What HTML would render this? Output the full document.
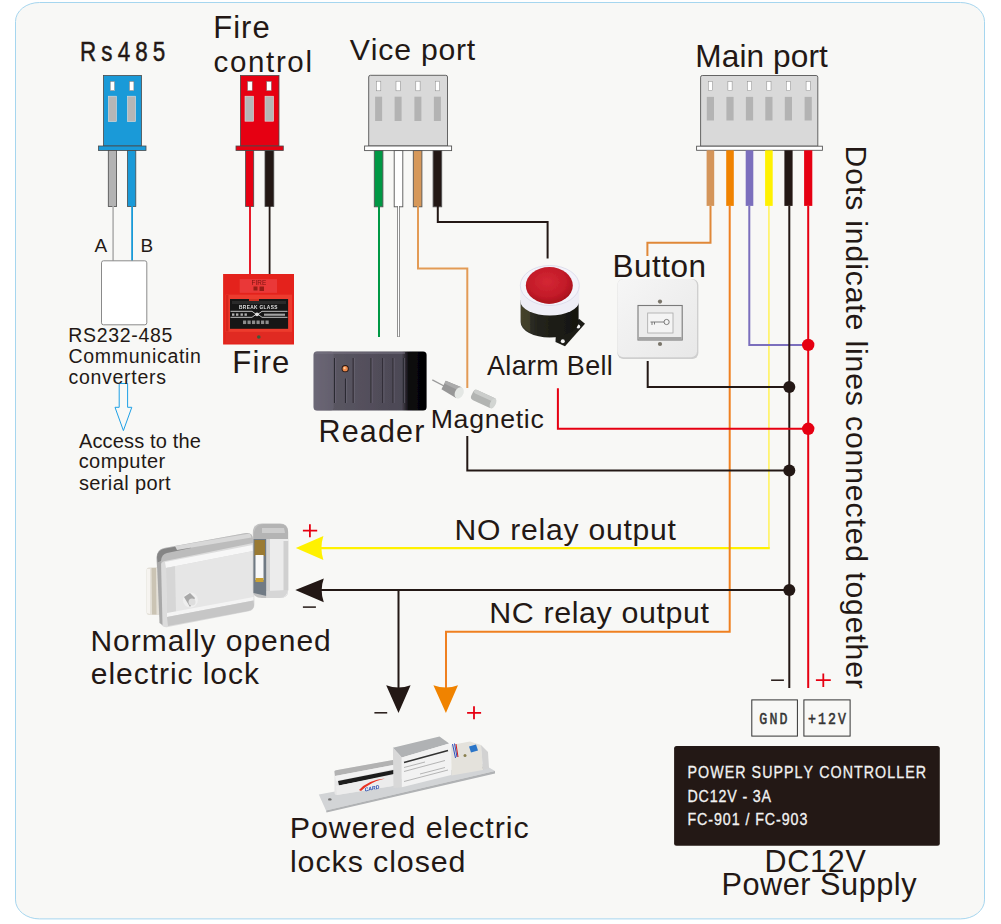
<!DOCTYPE html>
<html><head><meta charset="utf-8"><style>
html,body{margin:0;padding:0;background:#fff;width:1001px;height:924px;overflow:hidden}
svg{display:block}
text{font-kerning:none}
</style></head><body>
<svg width="1001" height="924" viewBox="0 0 1001 924">
<defs>
  <filter id="soft" x="-5%" y="-5%" width="110%" height="110%"><feGaussianBlur stdDeviation="0.4"/></filter>
  <linearGradient id="chrome" x1="0" y1="0" x2="0" y2="1">
    <stop offset="0" stop-color="#f4f4f4"/><stop offset="0.3" stop-color="#d9d9d9"/><stop offset="0.6" stop-color="#eeeeee"/><stop offset="1" stop-color="#bdbdbd"/>
  </linearGradient>
  <linearGradient id="chromeH" x1="0" y1="0" x2="1" y2="0">
    <stop offset="0" stop-color="#c8c8c8"/><stop offset="0.3" stop-color="#f0f0f0"/><stop offset="0.7" stop-color="#dcdcdc"/><stop offset="1" stop-color="#a8a8a8"/>
  </linearGradient>
  <linearGradient id="readerG" x1="0" y1="0" x2="1" y2="0">
    <stop offset="0" stop-color="#6c6776"/><stop offset="0.17" stop-color="#5a5662"/><stop offset="0.78" stop-color="#4c4855"/><stop offset="0.84" stop-color="#0e0d10"/><stop offset="1" stop-color="#000"/>
  </linearGradient>
  <linearGradient id="fireG" x1="0" y1="0" x2="0" y2="1">
    <stop offset="0" stop-color="#e53a2c"/><stop offset="1" stop-color="#d8261c"/>
  </linearGradient>
  <radialGradient id="bellRed" cx="0.45" cy="0.4" r="0.6">
    <stop offset="0" stop-color="#d42834"/><stop offset="0.7" stop-color="#c21a28"/><stop offset="1" stop-color="#a8101c"/>
  </radialGradient>
  <linearGradient id="bellBody" x1="0" y1="0" x2="1" y2="0">
    <stop offset="0" stop-color="#3a3a30"/><stop offset="0.3" stop-color="#23231c"/><stop offset="1" stop-color="#15150f"/>
  </linearGradient>
  <linearGradient id="btnG" x1="0" y1="0" x2="1" y2="1">
    <stop offset="0" stop-color="#f6f6f6"/><stop offset="1" stop-color="#e8e8e8"/>
  </linearGradient>
</defs>
<!-- background -->
<rect x="15.5" y="2.5" width="969" height="916.4" rx="24" ry="19" fill="#f8f8f6" stroke="#a6d6ef" stroke-width="1"/>

<!-- ===== RS485 connector (blue) ===== -->
<g stroke="#4a4a4a" stroke-width="0.8">
  <rect x="103.5" y="75.5" width="38" height="70.5" fill="#1a9ad8"/>
  <rect x="98.5" y="146" width="47.5" height="4.5" fill="#1a9ad8"/>
  <rect x="108.3" y="150.5" width="8.3" height="56" fill="#b3b3b3"/>
  <rect x="127.5" y="150.5" width="8.3" height="56" fill="#1a9ad8"/>
</g>
<g fill="#fff" stroke="#777" stroke-width="0.5">
  <rect x="110.2" y="81.4" width="4.5" height="9.3"/><rect x="129.4" y="81.4" width="4.5" height="9.3"/>
</g>
<g fill="#b6b6b6" stroke="#ddd" stroke-width="0.6">
  <rect x="108.3" y="96.2" width="8.2" height="25.4"/><rect x="127.4" y="96.2" width="8.2" height="25.4"/>
</g>
<line x1="113.1" y1="206" x2="113.1" y2="261" stroke="#b0b0b0" stroke-width="1.6"/>
<line x1="132.1" y1="206" x2="132.1" y2="261" stroke="#1a9ad8" stroke-width="1.8"/>
<rect x="101.5" y="260.8" width="45.3" height="64" rx="2" fill="#fff" stroke="#8a8a8a" stroke-width="1"/>
<path d="M119.2 383.5 H127.6 V407.3 H131.8 L123.4 430.6 L115 407.3 H119.2 Z" fill="none" stroke="#1ea0e6" stroke-width="1"/>

<!-- ===== Fire control connector (red) ===== -->
<g stroke="#4a4a4a" stroke-width="0.8">
  <rect x="240.4" y="75.5" width="38.6" height="70.5" fill="#e60012"/>
  <rect x="236" y="146" width="47.3" height="4.5" fill="#e60012"/>
  <rect x="245.6" y="150.5" width="8.1" height="56" fill="#e60012"/>
  <rect x="265" y="150.5" width="8.8" height="56" fill="#231815"/>
</g>
<g fill="#fff" stroke="#777" stroke-width="0.5">
  <rect x="247.6" y="81.4" width="4.6" height="9.3"/><rect x="266.7" y="81.4" width="4.6" height="9.3"/>
</g>
<g fill="#b6b6b6" stroke="#ddd" stroke-width="0.6">
  <rect x="245" y="96.2" width="8.6" height="25" /><rect x="265" y="96.2" width="8.6" height="25"/>
</g>
<line x1="250" y1="206" x2="250" y2="275" stroke="#e60012" stroke-width="1.8"/>
<line x1="269.6" y1="206" x2="269.6" y2="275" stroke="#231815" stroke-width="1.8"/>

<!-- ===== Vice port connector ===== -->
<g stroke="#555" stroke-width="0.9">
  <path d="M368.7 146 V77 Q368.7 75.3 370.4 75.3 H445.8 Q447.5 75.3 447.5 77 V146 Z" fill="#d9d9d9"/>
  <rect x="364.6" y="146" width="87" height="4.6" fill="#fff"/>
  <rect x="374.3" y="150.6" width="8.6" height="56.2" fill="#009844"/>
  <rect x="394.2" y="150.6" width="8.6" height="56.2" fill="#ffffff"/>
  <rect x="413.3" y="150.6" width="8.6" height="56.2" fill="#d6985a"/>
  <rect x="433.1" y="150.6" width="8.6" height="56.2" fill="#231815"/>
</g>
<g fill="#fff" stroke="#888" stroke-width="0.5">
  <rect x="376.5" y="81.2" width="4.3" height="9.6"/><rect x="396" y="81.2" width="4.3" height="9.6"/>
  <rect x="415.8" y="81.2" width="4.3" height="9.6"/><rect x="435.3" y="81.2" width="4.3" height="9.6"/>
</g>
<g fill="#b3b3b3">
  <rect x="375.1" y="96.7" width="7" height="24.3"/><rect x="394.6" y="96.7" width="7" height="24.3"/>
  <rect x="414.4" y="96.7" width="7" height="24.3"/><rect x="433.9" y="96.7" width="7" height="24.3"/>
</g>

<!-- ===== Main port connector ===== -->
<g stroke="#555" stroke-width="0.9">
  <path d="M700.6 146.2 V77.2 Q700.6 75.5 702.3 75.5 H816.1 Q817.8 75.5 817.8 77.2 V146.2 Z" fill="#d9d9d9"/>
  <rect x="696.6" y="146.2" width="125.8" height="4.1" fill="#fff"/>
</g>
<g>
  <rect x="706.6" y="150.3" width="7.6" height="55.6" fill="#d4955a"/>
  <rect x="726.2" y="150.3" width="7.6" height="55.6" fill="#f08300"/>
  <rect x="745.7" y="150.3" width="7.6" height="55.6" fill="#7b6fbd"/>
  <rect x="765.1" y="150.3" width="7.6" height="55.6" fill="#fff100"/>
  <rect x="784.4" y="150.3" width="8.2" height="55.6" fill="#231815"/>
  <rect x="804.1" y="150.3" width="8.2" height="55.6" fill="#e60012"/>
</g>
<g fill="#fff" stroke="#888" stroke-width="0.5">
  <rect x="708.3" y="81.4" width="4.2" height="9.3"/><rect x="727.9" y="81.4" width="4.2" height="9.3"/>
  <rect x="747.4" y="81.4" width="4.2" height="9.3"/><rect x="766.8" y="81.4" width="4.2" height="9.3"/>
  <rect x="786.3" y="81.4" width="4.2" height="9.3"/><rect x="806.1" y="81.4" width="4.2" height="9.3"/>
</g>
<g fill="#b3b3b3">
  <rect x="706.8" y="96.9" width="7.2" height="23.6"/><rect x="726.4" y="96.9" width="7.2" height="23.6"/>
  <rect x="745.9" y="96.9" width="7.2" height="23.6"/><rect x="765.3" y="96.9" width="7.2" height="23.6"/>
  <rect x="784.8" y="96.9" width="7.2" height="23.6"/><rect x="804.6" y="96.9" width="7.2" height="23.6"/>
</g>

<!-- ===== thin wires ===== -->
<g fill="none" stroke-width="2" stroke-linejoin="miter">
  <path d="M379 206 V337" stroke="#009844"/>
  <path d="M398.5 206 V337" stroke="#777" stroke-width="2.6"/>
  <path d="M398.5 206 V336.5" stroke="#fff" stroke-width="1"/>
  <path d="M418 206 V268.6 H467.3 V388" stroke="#e39b55"/>
  <path d="M437.8 206 V222 H547.6 V258.5" stroke="#231815"/>
  <path d="M710.5 206 V242.7 H647.4 V256" stroke="#e08838"/>
  <path d="M768.9 206 V547.5" stroke="#fff370" stroke-width="1.8"/>
  <path d="M769.8 548.1 H321" stroke="#fff100" stroke-width="2.1"/>
  <path d="M729.7 206 V631.7 H446 V688" stroke="#ef8020"/>
  <path d="M749.3 206 V344.9 H808" stroke="#7b6fbd"/>
  <path d="M789.3 206 V688" stroke="#231815"/>
  <path d="M808.2 206 V688" stroke="#e60012"/>
  <path d="M557.9 388.3 V428.8 H808" stroke="#e60012"/>
  <path d="M467.3 436 V470.6 H789" stroke="#231815"/>
  <path d="M647.7 361 V386.9 H789" stroke="#231815"/>
  <path d="M321 590 H789" stroke="#231815"/>
  <path d="M398.5 590 V688" stroke="#231815"/>
</g>
<!-- dots -->
<circle cx="808.2" cy="344.9" r="6.2" fill="#e60012"/>
<circle cx="808.2" cy="428.8" r="6.2" fill="#e60012"/>
<circle cx="789.3" cy="386.9" r="6" fill="#231815"/>
<circle cx="789.3" cy="470.5" r="6" fill="#231815"/>
<circle cx="789.3" cy="590" r="6" fill="#231815"/>

<!-- arrows -->
<path d="M295.8 548 L323.4 536.1 Q319.5 548 323.4 560 Z" fill="#fff100"/>
<path d="M295.3 590 L323.8 578.4 Q319.5 590 323.8 602.2 Z" fill="#231815"/>
<path d="M398.5 713.1 L386.2 685.2 Q398.5 690 410.6 685.2 Z" fill="#231815"/>
<path d="M445.9 713.1 L433.4 685.2 Q445.9 690 458 685.2 Z" fill="#f08300"/>

<!-- signs -->
<g stroke="#e60012" stroke-width="1.8">
  <path d="M302.9 530.7 H317.2 M309.9 524.2 V537.2"/>
  <path d="M467.1 712.8 H481.1 M474 706.2 V719.3"/>
  <path d="M815.9 680.2 H830.8 M823.3 673.5 V687.1"/>
</g>
<g stroke="#231815" stroke-width="1.5">
  <path d="M302.9 607.1 H315.9"/>
  <path d="M374.4 712.8 H387.2"/>
  <path d="M771.1 680.2 H783.9"/>
</g>

<!-- power supply -->
<rect x="751.8" y="699.9" width="45.6" height="36.2" fill="none" stroke="#333" stroke-width="1"/>
<rect x="803.9" y="699.9" width="46.2" height="36.2" fill="none" stroke="#333" stroke-width="1"/>
<rect x="674.1" y="746" width="265.7" height="99.8" rx="2.5" fill="#231815"/>

<!-- ===== Fire alarm ===== -->
<g id="firealarm" filter="url(#soft)">
  <rect x="223.1" y="274" width="70.9" height="70.5" fill="#e4241b"/>
  <rect x="239.7" y="279.1" width="37.3" height="13.7" fill="#ea3838"/>
  <text x="251.6" y="285" font-size="6.4" fill="#7a1410" style="font-family:&quot;Liberation Sans&quot;">FIRE</text>
  <path d="M253.5 286.5 h4 v4 h-4 z M259.5 286.5 h4.5 v4.5 h-4.5 z" fill="#8a1812" opacity="0.85"/>
  <rect x="225.5" y="294.6" width="66.5" height="37.3" fill="#ec3a2e"/>
  <rect x="226" y="295" width="2.5" height="36.5" fill="#d8281e"/>
  <rect x="230" y="299" width="58.1" height="29.8" fill="#141414"/>
  <rect x="249" y="299" width="10" height="2" fill="#d03020"/>
  <rect x="232" y="301" width="54" height="3" fill="#2c2c2c"/>
  <text x="239" y="308.5" font-size="4.8" font-weight="bold" fill="#e0e0e0" style="font-family:&quot;Liberation Sans&quot;" letter-spacing="0.35">BREAK  GLASS</text>
  <path d="M230.5 311.3 H252 L257 315 L262 311.3 H287.5 M230.5 317.3 H252 L257 313.6 L262 317.3 H287.5" stroke="#f0f0f0" stroke-width="0.8" fill="none"/>
  <circle cx="257" cy="314.3" r="1.9" fill="#e0e0e0"/>
  <g fill="#b0b0b0"><rect x="232" y="313.4" width="2.4" height="2.4"/><rect x="236" y="313.4" width="2.4" height="2.4"/><rect x="240.5" y="313.4" width="2.4" height="2.4"/><rect x="244.5" y="313.4" width="2.4" height="2.4"/>
  <rect x="264" y="313.6" width="21" height="2.2" opacity="0.9"/></g>
  <g fill="#8c8c8c"><rect x="243" y="320.5" width="3.2" height="3.6"/><rect x="247.5" y="320.5" width="3.2" height="3.6"/><rect x="252" y="320.5" width="3.2" height="3.6"/><rect x="256.5" y="320.5" width="3.2" height="3.6"/><rect x="261" y="320.5" width="3.2" height="3.6"/><rect x="265.5" y="320.5" width="3.2" height="3.6"/></g>
  <rect x="225.5" y="332" width="66.5" height="11" fill="#e02a20"/>
  <circle cx="258.8" cy="337" r="1.8" fill="#3d5a3a"/>
</g>

<!-- ===== Alarm bell ===== -->
<g id="bell" filter="url(#soft)">
  <path d="M556 331 L579.3 318.9 L585 323.8 L565 346.2 L555.5 342 Z" fill="#1c1c18"/>
  <circle cx="578.2" cy="326.5" r="2" fill="#f4f4f4"/>
  <circle cx="562.8" cy="341.2" r="2" fill="#f4f4f4"/>
  <path d="M520.6 300 V322 A29 15.5 0 0 0 578.6 322 V300 Z" fill="url(#bellBody)"/>
  <path d="M521 306 V322 A29 15 0 0 0 530 332 V312 Z" fill="#4d4a2c" opacity="0.6"/>
  <path d="M520.3 285.5 V301 A29.5 14.5 0 0 0 579.3 301 V285.5 Z" fill="#eeeef6"/>
  <ellipse cx="549.8" cy="285.5" rx="29.5" ry="20" fill="#f3f3fa" stroke="#d8d8e8" stroke-width="0.8"/>
  <ellipse cx="549.3" cy="285.4" rx="23.5" ry="18.3" fill="url(#bellRed)"/>
  <path d="M534 296 Q549 306 566 296 Q560 303 549 304 Q538 303 534 296 Z" fill="#b01420" opacity="0.7"/>
</g>

<!-- ===== Button ===== -->
<g id="button" filter="url(#soft)">
  <rect x="617.4" y="279" width="81" height="80" rx="6" fill="#cfcfcf"/>
  <rect x="617.4" y="279" width="79.6" height="78.3" rx="6" fill="url(#btnG)"/>
  <circle cx="660" cy="301.6" r="2.1" fill="#7a756a"/>
  <circle cx="660" cy="344" r="2.1" fill="#7a756a"/>
  <rect x="638" y="305.5" width="44.2" height="34.5" fill="#ececec" stroke="#7a7a7a" stroke-width="1.1"/>
  <rect x="638.5" y="337" width="43.2" height="3" fill="#a4a4a4"/>
  <rect x="647.7" y="313" width="25.3" height="20" fill="#f4f4f4" stroke="#a8a8a8" stroke-width="0.8"/>
  <circle cx="666.6" cy="322" r="2.6" fill="none" stroke="#707070" stroke-width="0.9"/>
  <path d="M650.5 322 H664 M652 322 V325 M654.5 322 V324.5" fill="none" stroke="#707070" stroke-width="0.9"/>
</g>

<!-- ===== Reader ===== -->
<g id="reader" filter="url(#soft)">
  <rect x="313.6" y="351.5" width="113" height="59.1" rx="3.5" fill="url(#readerG)"/>
  <rect x="313.6" y="351.5" width="20" height="59.1" rx="3" fill="#6c6876" opacity="0.55"/>
  <rect x="315" y="352" width="90" height="2" fill="#7a7684" opacity="0.5"/>
  <g stroke="#2c2a32" stroke-width="1.1">
    <path d="M334.5 358 V403 M353.2 358 V403 M371 358 V403 M382.7 358 V403 M393 358 V403 M403.5 358 V403 M345.5 378.5 V403"/>
  </g>
  <g stroke="#7a7684" stroke-width="0.6" opacity="0.8">
    <path d="M335.6 358 V403 M354.3 358 V403 M372.1 358 V403 M383.8 358 V403 M394.1 358 V403 M404.6 358 V403 M346.6 378.5 V403"/>
  </g>
  <circle cx="345.2" cy="368.7" r="3.6" fill="#2a1a14"/>
  <circle cx="345.2" cy="368.7" r="2.6" fill="#f08a4a"/>
  <circle cx="344.6" cy="368.1" r="1.1" fill="#ffd0a0"/>
</g>

<!-- ===== Magnetic sensor ===== -->
<g id="magnetic" filter="url(#soft)">
  <path d="M432.3 379.9 L444 386" stroke="#9a9a9a" stroke-width="1.3" fill="none"/>
  <g transform="translate(452.5 389.5) rotate(27)">
    <path d="M-10 -4.8 L7 -6 L7 6 L-10 4.8 Z" fill="#979797"/>
    <path d="M-10 -4.8 L7 -6 L7 -2 L-10 -1.5 Z" fill="#ababab"/>
    <ellipse cx="7.5" cy="0" rx="4.2" ry="6" fill="#e4e7e4"/>
  </g>
  <g transform="translate(483.5 399) rotate(25)">
    <rect x="-12.5" y="-5.5" width="25" height="11" rx="3.5" fill="#b2b4b2"/>
    <rect x="-12" y="-5.5" width="24" height="4" rx="2" fill="#cbcdcb"/>
    <ellipse cx="10.5" cy="0" rx="2.8" ry="5.4" fill="#d2d5d2"/>
  </g>
</g>

<!-- ===== Rim lock ===== -->
<g id="rimlock" filter="url(#soft)">
  <path d="M146.5 570 Q146.5 567.5 149 567.5 L160 567 L161 615 L149 615 Q146.5 615 146.5 612 Z" fill="#e4e0d8"/>
  <path d="M151.5 568 L156 568 L156.5 614.5 L152 614.5 Z" fill="#cbc4b4"/>
  <path d="M147 569 L150 569 L150 614 L147 613 Z" fill="#f6f4f0"/>
  <path d="M156.5 558 Q156.5 549.5 164 548 L246 533 Q252.5 532 253 539 L254.5 604 Q254.5 610.5 248 611.5 L168 627 Q161 628.5 160.5 621 Z" fill="#dcdcdc"/>
  <path d="M156.5 558 Q156.5 549.5 164 548 L246 533 Q252.5 532 253 539 L253 543 L165 561 Q160 562 160.5 568 L157 568 Z" fill="#bcbcbc"/>
  <path d="M157 557 Q157.5 549.5 165 548.5 L190 544 L191 548 L167 553 Q161.5 554 161 561 L157.5 563 Z" fill="#858585"/>
  <path d="M175 546 L250 533.5 L251.5 537.5 L177 550 Z" fill="#d8d8d8"/>
  <path d="M157 563 L161 561 L162.5 625 L159.5 623 Z" fill="#a8a8a8"/>
  <path d="M165 562 L252.5 545 L253 551 L166 568 Z" fill="#f7f7f7"/>
  <path d="M166 568 L253 551 L253.5 598 L167 614 Z" fill="#e6e6e6"/>
  <path d="M166 568 L175 566.3 L176 612.3 L167 614 Z" fill="#d6d6d6"/>
  <path d="M167 613 L253.5 597 L253.5 600.5 L167 617 Z" fill="#f4f4f4"/>
  <path d="M167 617 L253.5 600.5 L254 605 Q254 610 248 611 L168 626 Z" fill="#c6c6c6"/>
  <circle cx="190.4" cy="600" r="7.5" fill="#efefef"/>
  <path d="M184 597 L190 593 L195 598 L190 607 Z" fill="#a8a8a8"/>
  <circle cx="192" cy="602" r="3.5" fill="#dedede"/>
  <path d="M252.8 533 Q252.8 523.5 262 523.5 L280 523.5 Q288.2 523.5 288.2 532 L288.2 590 Q288.2 598 280 598 L262 598 Q252.8 598 252.8 590 Z" fill="#c2c2c2"/>
  <path d="M253.5 539 L266.6 539 L266.6 596 L253.5 593 Z" fill="#707a84"/>
  <path d="M254.5 540 L265 540 L265 556 L254.5 556 Z" fill="#9a7a30"/>
  <rect x="255.5" y="555" width="8" height="25" fill="#f8f8f8"/>
  <rect x="255.5" y="578" width="8" height="4" fill="#c8a030"/>
  <path d="M266.6 539 L288.2 539 L288.2 590 Q288.2 598 280 598 L266.6 598 Z" fill="#ececec"/>
  <path d="M266.6 539 L270 539 L270 598 L266.6 598 Z" fill="#d4d4d4"/>
  <path d="M283.5 541 L288.2 541 L288.2 590 L283.5 592 Z" fill="#d0d0d0"/>
  <path d="M266.6 591 L288 590 Q287 597 280 598 L266.6 598 Z" fill="#d6d6d6"/>
  <path d="M254 532 Q256 524 264 524 L280 524 Q287 524 288 531 L288 539 L253.5 539 Z" fill="#b4b4b4"/>
  <path d="M262 528 L284 528 L285 533 L262 533 Z" fill="#cdcdcd"/>
</g>

<!-- ===== Bolt lock ===== -->
<g id="boltlock" filter="url(#soft)">
  <path d="M318.8 794.5 L483 764 L495 771 L326 810.5 Z" fill="#d2d4d6"/>
  <path d="M326 810.5 L495 771 L495 773.5 L326.5 812.5 Z" fill="#b0b2b4"/>
  <ellipse cx="329.8" cy="799.4" rx="1.8" ry="1.2" fill="#707070"/>
  <circle cx="483" cy="768" r="1.2" fill="#8a8a8a"/>
  <path d="M334.5 772 Q334 770.6 336 770.3 L398.5 759 L399 785 L337 795 Q334.5 795.3 334.5 793 Z" fill="#e6e6e6"/>
  <path d="M334.5 772 Q334 770.6 336 770.3 L398.5 759 L398.5 764 L335 776 Z" fill="#b2b2b2"/>
  <path d="M335 776 L398.5 764 L398.5 768 L336 781 Z" fill="#f2f2f2"/>
  <path d="M338 781 L398.5 769 L398.5 773 L339 785.5 Z" fill="#1e1e1e"/>
  <path d="M336 786 L398.5 774 L399 785 L337 795 Z" fill="#ececec"/>
  <path d="M359 790 Q368 780 385 778.5 Q370 782 361 791 Z" fill="#e83020"/>
  <text x="364" y="790" font-size="5.2" font-weight="bold" font-style="italic" fill="#2048b0" transform="rotate(-11 372 786)" style="font-family:&quot;Liberation Sans&quot;">CARD</text>
  <path d="M392.9 747.8 L439.5 736.5 L449.2 743.6 L401.8 757.5 Z" fill="#b0b2b4"/>
  <path d="M392.9 747.8 L401.8 757.5 L401.8 787.2 L393.5 788 Z" fill="#d8d8d8"/>
  <path d="M401.8 757.5 L449.2 743.6 L451.1 747.3 L451.1 775.1 L401.8 787.2 Z" fill="#f2f2f2"/>
  <path d="M404 762.5 L448 750.5" stroke="#333" stroke-width="1.6"/>
  <g stroke="#999" stroke-width="0.7">
    <path d="M404 767.5 L425 762 M404 771.5 L445 760.5 M420 774 L445 767.5 M404 781.5 L448 770"/>
  </g>
  <path d="M451.1 745 L470 741.5 L481 745 L483 770 L451.5 775.5 Z" fill="#e4e2dc"/>
  <path d="M481 745 L488 752 L489 768 L483 770 Z" fill="#d2d2d2"/>
  <path d="M469 746.5 L476 744.5 L478 750.5 L471 752.5 Z" fill="#2a74c8"/>
  <circle cx="465" cy="755.5" r="1.5" fill="#8a8050"/>
  <path d="M452.5 744 L455.5 758 M454.5 743.5 L457 757" stroke="#3050c0" stroke-width="1"/>
  <path d="M456 744 L458 757" stroke="#d02020" stroke-width="1"/>
</g>

<text transform="matrix(0.8 0 0 1 80.06 0)" x="0" y="60.80" font-size="28" letter-spacing="6.384" fill="#231815" stroke="#231815" stroke-width="0.50" style="font-family:&quot;Liberation Sans&quot;">Rs485</text>
<text x="213.26" y="38.00" font-size="31" letter-spacing="1.011" fill="#231815" style="font-family:&quot;Liberation Sans&quot;">Fire</text>
<text x="213.55" y="71.80" font-size="29.5" letter-spacing="1.647" fill="#231815" style="font-family:&quot;Liberation Sans&quot;">control</text>
<text x="349.87" y="59.85" font-size="30.2" letter-spacing="0.784" fill="#231815" style="font-family:&quot;Liberation Sans&quot;">Vice port</text>
<text x="695.31" y="67.00" font-size="31.6" letter-spacing="0.100" fill="#231815" style="font-family:&quot;Liberation Sans&quot;">Main port</text>
<text x="94.56" y="252.10" font-size="19" letter-spacing="0.000" fill="#231815" style="font-family:&quot;Liberation Sans&quot;">A</text>
<text x="140.44" y="252.10" font-size="19" letter-spacing="0.000" fill="#231815" style="font-family:&quot;Liberation Sans&quot;">B</text>
<text x="68.30" y="341.60" font-size="19.5" letter-spacing="0.683" fill="#231815" style="font-family:&quot;Liberation Sans&quot;">RS232-485</text>
<text x="68.51" y="362.70" font-size="19.5" letter-spacing="0.712" fill="#231815" style="font-family:&quot;Liberation Sans&quot;">Communicatin</text>
<text x="68.47" y="383.70" font-size="19.5" letter-spacing="0.711" fill="#231815" style="font-family:&quot;Liberation Sans&quot;">converters</text>
<text x="78.96" y="447.80" font-size="20" letter-spacing="0.156" fill="#231815" style="font-family:&quot;Liberation Sans&quot;">Access to the</text>
<text x="78.65" y="468.10" font-size="20" letter-spacing="0.445" fill="#231815" style="font-family:&quot;Liberation Sans&quot;">computer</text>
<text x="78.94" y="489.80" font-size="20" letter-spacing="0.379" fill="#231815" style="font-family:&quot;Liberation Sans&quot;">serial port</text>
<text x="232.35" y="372.90" font-size="31.1" letter-spacing="1.125" fill="#231815" style="font-family:&quot;Liberation Sans&quot;">Fire</text>
<text x="612.42" y="277.00" font-size="31.5" letter-spacing="0.512" fill="#231815" style="font-family:&quot;Liberation Sans&quot;">Button</text>
<text x="487.05" y="374.80" font-size="26.9" letter-spacing="0.353" fill="#231815" style="font-family:&quot;Liberation Sans&quot;">Alarm Bell</text>
<text x="318.50" y="441.90" font-size="30.5" letter-spacing="1.175" fill="#231815" style="font-family:&quot;Liberation Sans&quot;">Reader</text>
<text x="430.71" y="427.80" font-size="26.7" letter-spacing="0.679" fill="#231815" style="font-family:&quot;Liberation Sans&quot;">Magnetic</text>
<text x="454.53" y="539.80" font-size="30.1" letter-spacing="0.763" fill="#231815" style="font-family:&quot;Liberation Sans&quot;">NO relay output</text>
<text x="489.31" y="622.90" font-size="30.4" letter-spacing="0.607" fill="#231815" style="font-family:&quot;Liberation Sans&quot;">NC relay output</text>
<text x="90.44" y="650.60" font-size="30" letter-spacing="0.965" fill="#231815" style="font-family:&quot;Liberation Sans&quot;">Normally opened</text>
<text x="90.83" y="683.80" font-size="30" letter-spacing="0.952" fill="#231815" style="font-family:&quot;Liberation Sans&quot;">electric lock</text>
<text x="289.71" y="837.80" font-size="30.4" letter-spacing="0.952" fill="#231815" style="font-family:&quot;Liberation Sans&quot;">Powered electric</text>
<text x="289.95" y="871.80" font-size="30.4" letter-spacing="0.911" fill="#231815" style="font-family:&quot;Liberation Sans&quot;">locks closed</text>
<text x="764.40" y="872.00" font-size="30.5" letter-spacing="0.754" fill="#231815" style="font-family:&quot;Liberation Sans&quot;">DC12V</text>
<text x="721.48" y="895.00" font-size="30.7" letter-spacing="0.515" fill="#231815" style="font-family:&quot;Liberation Sans&quot;">Power Supply</text>
<text transform="matrix(0.88 0 0 1 687.48 0)" x="0" y="778.00" font-size="16.2" letter-spacing="1.199" fill="#f2f2f2" stroke="#f2f2f2" stroke-width="0.30" style="font-family:&quot;Liberation Sans&quot;">POWER SUPPLY CONTROLLER</text>
<text transform="matrix(0.88 0 0 1 687.48 0)" x="0" y="801.80" font-size="16.2" letter-spacing="0.958" fill="#f2f2f2" stroke="#f2f2f2" stroke-width="0.30" style="font-family:&quot;Liberation Sans&quot;">DC12V - 3A</text>
<text transform="matrix(0.88 0 0 1 687.48 0)" x="0" y="825.20" font-size="16.2" letter-spacing="1.054" fill="#f2f2f2" stroke="#f2f2f2" stroke-width="0.30" style="font-family:&quot;Liberation Sans&quot;">FC-901 / FC-903</text>
<text transform="matrix(0.78 0 0 1 759.17 0)" x="0" y="723.90" font-size="17" letter-spacing="2.906" fill="#333" stroke="#333" stroke-width="0.55" style="font-family:&quot;Liberation Mono&quot;">GND</text>
<text transform="matrix(0.78 0 0 1 808.05 0)" x="0" y="723.90" font-size="17" letter-spacing="2.604" fill="#333" stroke="#333" stroke-width="0.55" style="font-family:&quot;Liberation Mono&quot;">+12V</text>
<text transform="translate(845.9 0) rotate(90)" x="145.62" y="0" font-size="30.2" letter-spacing="0.850" fill="#231815" style="font-family:&quot;Liberation Sans&quot;">Dots indicate lines connected together</text>
</svg>
</body></html>
